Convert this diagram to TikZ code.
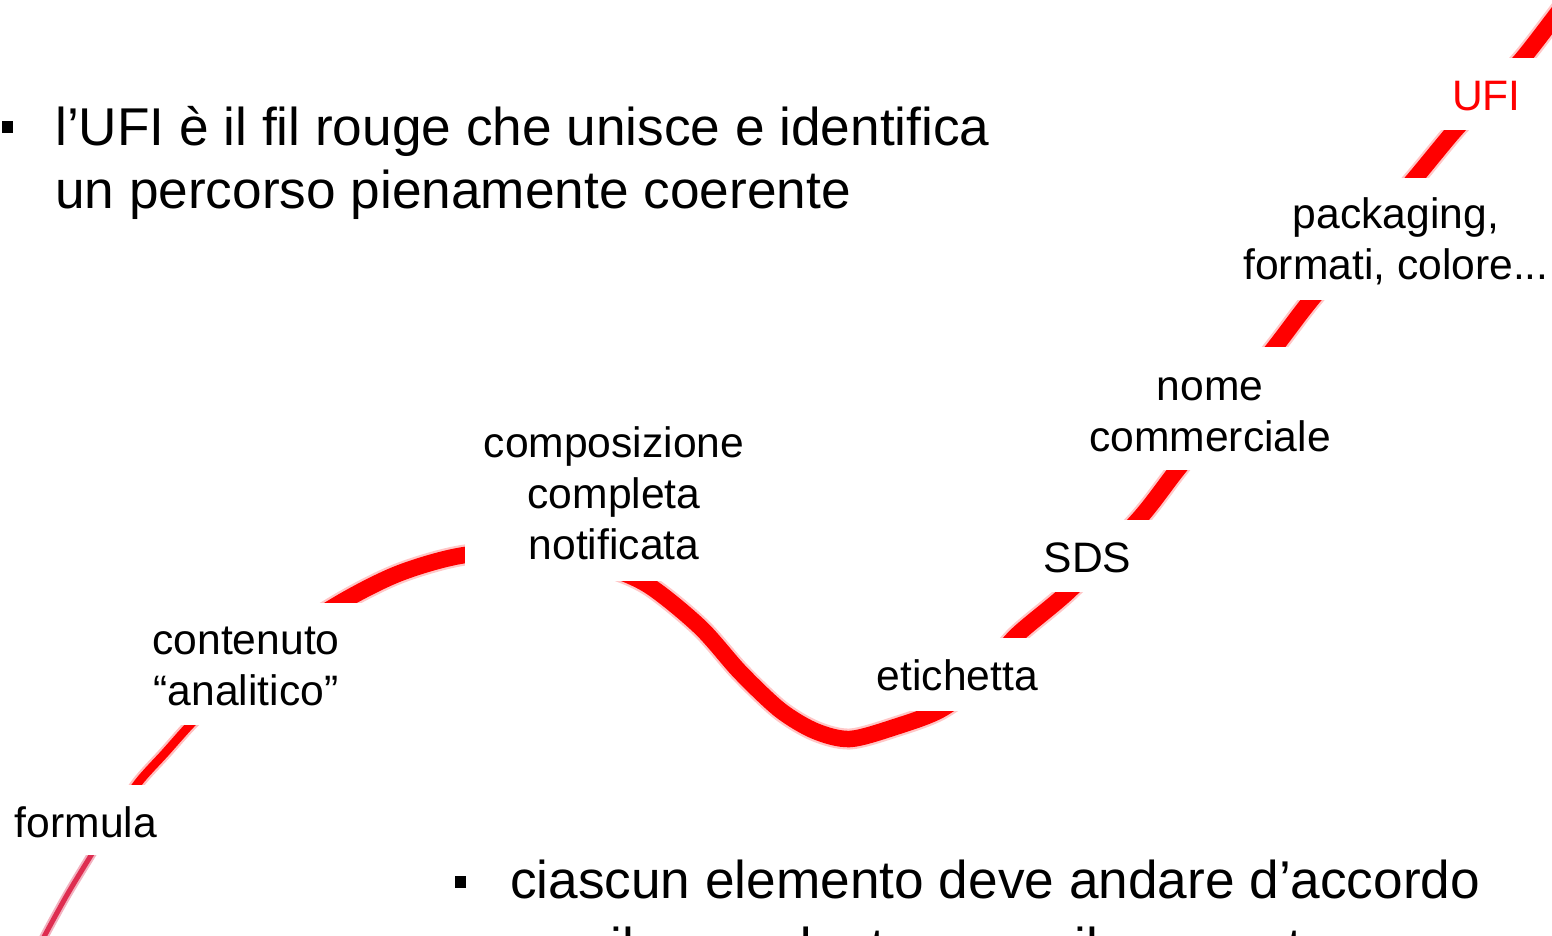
\documentclass[tikz,border=0pt]{standalone}
\usepackage{fontspec}
\setmainfont{Liberation Sans}
\newcommand\lblfont{\fontsize{42.6}{51}\selectfont}
\newcommand\bulfont{\fontsize{53.2}{63}\selectfont}
\definecolor{fadedcore}{RGB}{222,45,80}
\definecolor{fadedhalo}{RGB}{242,178,192}
\definecolor{ufired}{RGB}{255,0,0}
\begin{document}
\begin{tikzpicture}[x=1pt,y=-1pt,
  mask/.style={rectangle,fill=white,draw=none,inner sep=0pt,outer sep=0pt},
  lbl/.style={anchor=base,inner sep=0pt,font=\lblfont,text=black},
  btxt/.style={anchor=base west,inner sep=0pt,font=\bulfont,text=black},
  sq/.style={rectangle,fill=black,draw=none,inner sep=0pt,minimum size=11.5pt},
  stroke/.style={line cap=round,line join=round}
]
\useasboundingbox (0,0) rectangle (1552,935);
\clip (0,0) rectangle (1552,935);

% --- the red thread (drawn first, partly hidden by the label masks) ---
% faint lower part below "formula"
\draw[stroke,fadedhalo,line width=9pt] plot[smooth] coordinates {(38,950) (45,935) (67,895) (90,857) (112,822)};
\draw[stroke,fadedcore,line width=5pt] plot[smooth] coordinates {(38,950) (45,935) (67,895) (90,857) (112,822)};
% part between "formula" and "contenuto"
\draw[stroke,red!25,line width=13pt] plot[smooth] coordinates {(100,840) (112,822) (138,783) (165,753) (190,725) (215,700)};
\draw[stroke,red,line width=8.5pt] plot[smooth] coordinates {(100,840) (112,822) (138,783) (165,753) (190,725) (215,700)};
% main thick part
\draw[stroke,red!22,line width=21pt] plot[smooth] coordinates {(215,700) (265,652) (340,603) (400,573) (465,555) (540,553) (600,565) (648,585) (700,627) (740,672) (780,710) (815,731) (850,739) (895,727) (940,710) (980,680) (1015,637) (1070,590) (1138,520) (1177,470) (1225,410) (1275,347) (1311,300) (1365,237) (1416,177) (1455,130) (1490,93) (1523,58) (1560,10)};
\draw[stroke,red,line width=16.5pt] plot[smooth] coordinates {(215,700) (265,652) (340,603) (400,573) (465,555) (540,553) (600,565) (648,585) (700,627) (740,672) (780,710) (815,731) (850,739) (895,727) (940,710) (980,680) (1015,637) (1070,590) (1138,520) (1177,470) (1225,410) (1275,347) (1311,300) (1365,237) (1416,177) (1455,130) (1490,93) (1523,58) (1560,10)};

% --- white boxes behind the labels ---
\node[mask,minimum width=168pt,minimum height=70pt] (mformula) at (84,820) {};
\node[mask,minimum width=240pt,minimum height=122pt] (mcont) at (245,664) {};
\node[mask,minimum width=310pt,minimum height=161pt] (mcomp) at (620,500.5) {};
\node[mask,minimum width=185pt,minimum height=73pt] (metich) at (952.5,674.5) {};
\node[mask,minimum width=135pt,minimum height=72pt] (msds) at (1097.5,556) {};
\node[mask,minimum width=265pt,minimum height=123pt] (mnome) at (1212.5,408.5) {};
\node[mask,minimum width=325pt,minimum height=122pt] (mpack) at (1397.5,239) {};
\node[mask,minimum width=135pt,minimum height=72pt] (mufi) at (1492.5,94) {};

% --- labels along the thread ---
\node[lbl] (formula) at (86,837) {formula};
\node[lbl] (contenuto) at (246,654) {\begin{tabular}[t]{@{}c@{}}contenuto\\“analitico”\end{tabular}};
\node[lbl] (composizione) at (614,457) {\begin{tabular}[t]{@{}c@{}}composizione\\completa\\notificata\end{tabular}};
\node[lbl] (etichetta) at (957.5,690) {etichetta};
\node[lbl] (sds) at (1087.5,572) {SDS};
\node[lbl] (nome) at (1210,400) {\begin{tabular}[t]{@{}c@{}}nome\\commerciale\end{tabular}};
\node[lbl] (packaging) at (1396,228) {\begin{tabular}[t]{@{}c@{}}packaging,\\formati, colore...\end{tabular}};
\node[lbl,text=ufired] (ufi) at (1486.5,110) {UFI};

% --- bullet texts ---
\node[sq] (bul1) at (7.5,127) {};
\node[btxt] (txt1) at (55,145) {\begin{tabular}[t]{@{}l@{}}l’UFI è il fil rouge che unisce e identifica\\un percorso pienamente coerente\end{tabular}};
\node[sq] (bul2) at (460.5,882) {};
\node[btxt] (txt2) at (510,898) {\begin{tabular}[t]{@{}l@{}}ciascun elemento deve andare d’accordo\\[4pt]con il precedente e con il seguente\end{tabular}};
\end{tikzpicture}
\end{document}
